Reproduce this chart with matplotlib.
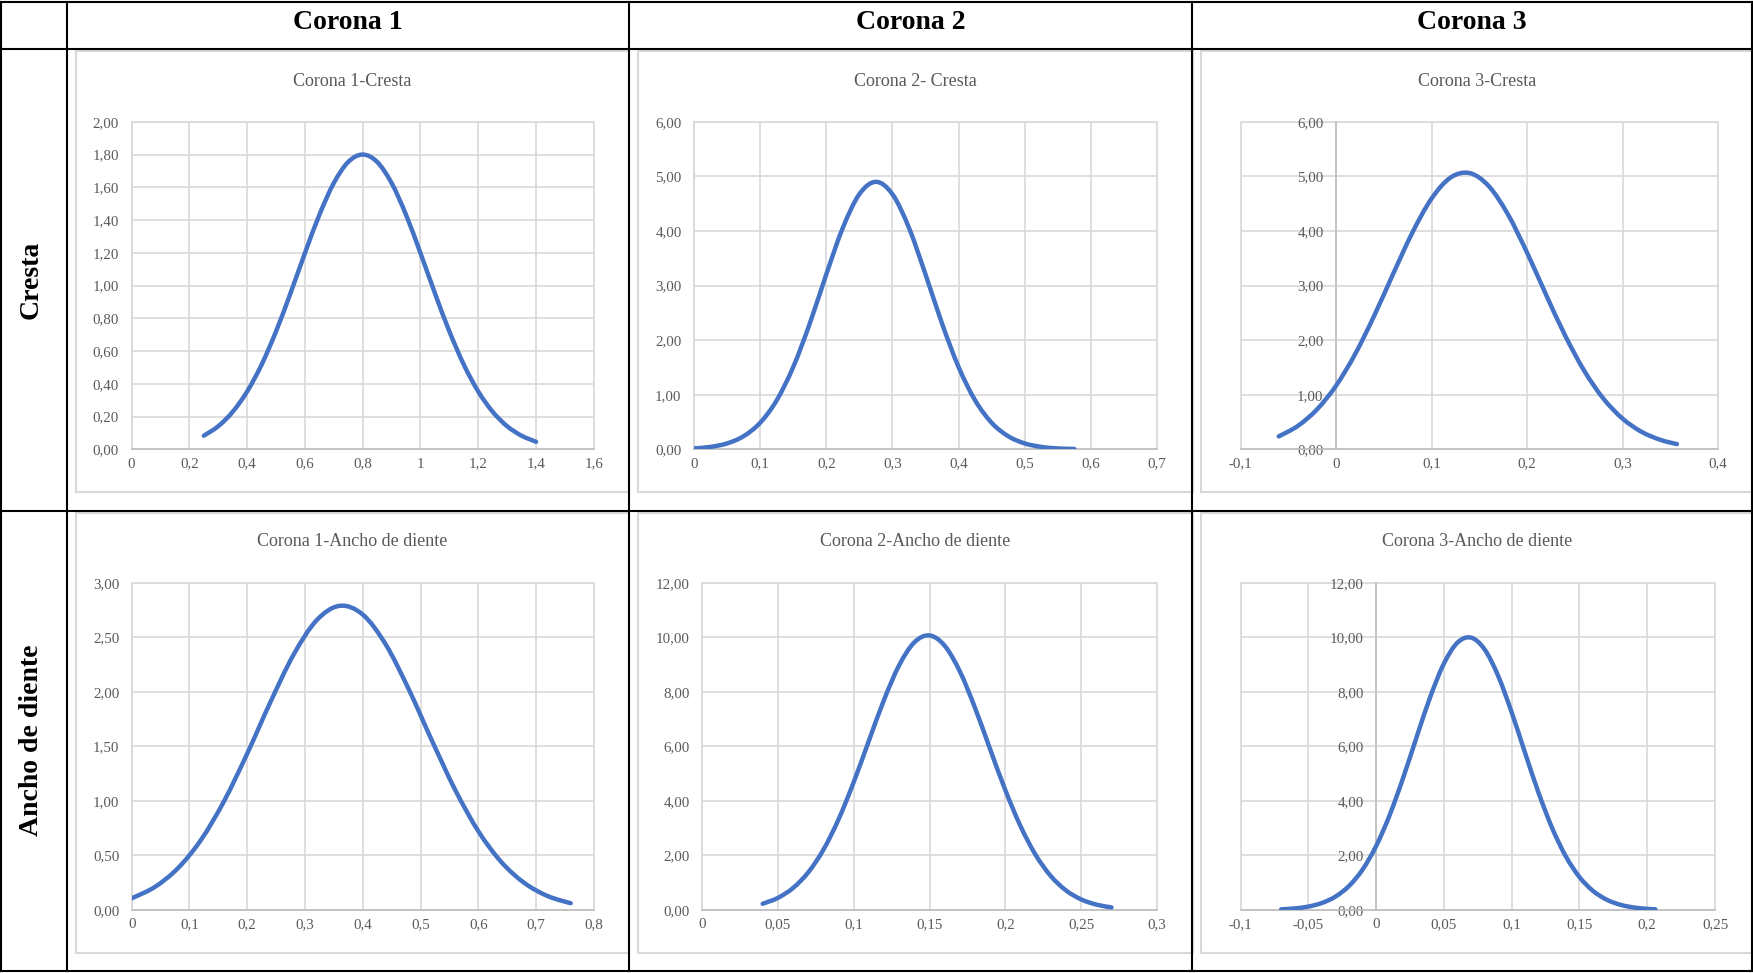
import matplotlib
matplotlib.use("Agg")
import matplotlib.pyplot as plt
from matplotlib.path import Path
from matplotlib.patches import PathPatch, Rectangle
from matplotlib.ticker import FixedLocator, FuncFormatter

plt.rcParams['font.family'] = ['Liberation Serif', 'DejaVu Serif']

# ---------------------------------------------------------------- data
column_labels = ["Corona 1", "Corona 2", "Corona 3"]
row_labels = ["Cresta", "Ancho de diente"]

# Corona 1 - Cresta
c1_cresta_x = [0.25, 0.30, 0.35, 0.40, 0.45, 0.50, 0.55, 0.60, 0.65, 0.70, 0.75, 0.80,
               0.85, 0.90, 0.95, 1.00, 1.05, 1.10, 1.15, 1.20, 1.25, 1.30, 1.35, 1.40]
c1_cresta_y = [0.083, 0.141, 0.229, 0.353, 0.517, 0.720, 0.953, 1.198, 1.432, 1.626, 1.755, 1.800,
               1.755, 1.626, 1.432, 1.198, 0.953, 0.720, 0.517, 0.353, 0.229, 0.141, 0.083, 0.046]

# Corona 2 - Cresta
c2_cresta_x = [0.000, 0.025, 0.050, 0.075, 0.100, 0.125, 0.150, 0.175, 0.200, 0.225, 0.250, 0.275,
               0.300, 0.325, 0.350, 0.375, 0.400, 0.425, 0.450, 0.475, 0.500, 0.525, 0.550, 0.575]
c2_cresta_y = [0.016, 0.044, 0.108, 0.240, 0.486, 0.897, 1.507, 2.304, 3.205, 4.058, 4.674, 4.900,
               4.674, 4.058, 3.205, 2.304, 1.507, 0.897, 0.486, 0.240, 0.108, 0.044, 0.016, 0.006]

# Corona 3 - Cresta
c3_cresta_x = [-0.06, -0.04, -0.02, 0.00, 0.02, 0.04, 0.06, 0.08, 0.10, 0.12, 0.14,
               0.16, 0.18, 0.20, 0.22, 0.24, 0.26, 0.28, 0.30, 0.32, 0.34, 0.357]
c3_cresta_y = [0.236, 0.428, 0.729, 1.164, 1.743, 2.447, 3.220, 3.971, 4.592, 4.979, 5.060,
               4.821, 4.305, 3.605, 2.830, 2.082, 1.436, 0.929, 0.563, 0.320, 0.171, 0.095]

# Corona 1 - Ancho de diente
c1_ancho_x = [0.00, 0.04, 0.08, 0.12, 0.16, 0.20, 0.24, 0.28, 0.32, 0.36,
              0.40, 0.44, 0.48, 0.52, 0.56, 0.60, 0.64, 0.68, 0.72, 0.76]
c1_ancho_y = [0.107, 0.211, 0.383, 0.643, 0.999, 1.434, 1.904, 2.338, 2.655, 2.788,
              2.708, 2.432, 2.019, 1.550, 1.101, 0.723, 0.439, 0.247, 0.128, 0.062]

# Corona 2 - Ancho de diente
c2_ancho_x = [0.04, 0.05, 0.06, 0.07, 0.08, 0.09, 0.10, 0.11, 0.12, 0.13, 0.14, 0.15,
              0.16, 0.17, 0.18, 0.19, 0.20, 0.21, 0.22, 0.23, 0.24, 0.25, 0.26, 0.27]
c2_ancho_y = [0.228, 0.443, 0.806, 1.376, 2.206, 3.319, 4.684, 6.200, 7.702, 8.975, 9.813, 10.067,
              9.689, 8.749, 7.413, 5.892, 4.394, 3.075, 2.018, 1.243, 0.718, 0.389, 0.198, 0.095]

# Corona 3 - Ancho de diente
c3_ancho_x = [-0.07, -0.06, -0.05, -0.04, -0.03, -0.02, -0.01, 0.00, 0.01, 0.02, 0.03, 0.04,
              0.05, 0.06, 0.07, 0.08, 0.09, 0.10, 0.11, 0.12, 0.13, 0.14, 0.15, 0.16,
              0.17, 0.18, 0.19, 0.20, 0.206]
c3_ancho_y = [0.025, 0.058, 0.126, 0.257, 0.490, 0.879, 1.479, 2.341, 3.477, 4.850, 6.354, 7.817,
              9.032, 9.801, 9.987, 9.558, 8.590, 7.250, 5.747, 4.277, 2.990, 1.963, 1.210, 0.701,
              0.381, 0.195, 0.093, 0.042, 0.025]

# axis ticks of each chart
c1_cresta_xticks = [0, 0.2, 0.4, 0.6, 0.8, 1.0, 1.2, 1.4, 1.6]
c1_cresta_yticks = [0, 0.2, 0.4, 0.6, 0.8, 1.0, 1.2, 1.4, 1.6, 1.8, 2.0]
c2_cresta_xticks = [0, 0.1, 0.2, 0.3, 0.4, 0.5, 0.6, 0.7]
c2_cresta_yticks = [0, 1, 2, 3, 4, 5, 6]
c3_cresta_xticks = [-0.1, 0, 0.1, 0.2, 0.3, 0.4]
c3_cresta_yticks = [0, 1, 2, 3, 4, 5, 6]
c1_ancho_xticks = [0, 0.1, 0.2, 0.3, 0.4, 0.5, 0.6, 0.7, 0.8]
c1_ancho_yticks = [0, 0.5, 1.0, 1.5, 2.0, 2.5, 3.0]
c2_ancho_xticks = [0, 0.05, 0.1, 0.15, 0.2, 0.25, 0.3]
c2_ancho_yticks = [0, 2, 4, 6, 8, 10, 12]
c3_ancho_xticks = [-0.1, -0.05, 0, 0.05, 0.1, 0.15, 0.2, 0.25]
c3_ancho_yticks = [0, 2, 4, 6, 8, 10, 12]

# ---------------------------------------------------------------- styling
W, H = 1753, 973
LINE_BLUE = "#4472C4"
GRID = "#D9D9D9"
AXIS = "#BFBFBF"
TEXT_GRAY = "#595959"

fig = plt.figure(figsize=(W / 100, H / 100), dpi=100)
fig.patch.set_facecolor("white")

# page layer in pixel units: table rules, headings, chart frames
bg = fig.add_axes([0, 0, 1, 1], zorder=0)
bg.set_xlim(0, W)
bg.set_ylim(H, 0)
bg.axis("off")

col_edges = [1, 67, 629, 1192, 1752]
row_edges = [1.5, 49, 511, 970.5]
for x in col_edges:
    bg.plot([x, x], [row_edges[0], row_edges[-1]], color="black", lw=1.5, solid_capstyle="projecting")
for y in row_edges:
    bg.plot([col_edges[0], col_edges[-1]], [y, y], color="black", lw=1.5, solid_capstyle="projecting")

for i, lab in enumerate(column_labels):
    cx = (col_edges[i + 1] + col_edges[i + 2]) / 2
    bg.text(cx, 22.5, lab, ha="center", va="center", fontsize=20, fontweight="bold", color="black")
for j, lab in enumerate(row_labels):
    cy = (row_edges[j + 1] + row_edges[j + 2]) / 2
    bg.text(31.5, cy, lab, ha="center", va="center", rotation=90, fontsize=20,
            fontweight="bold", color="black")

# chart frames: (left, top, right, bottom) in pixels
frames = [[(76, 51, 629, 492), (638, 51, 1193, 492), (1201, 51, 1753, 492)],
          [(76, 513, 629, 953), (638, 513, 1193, 953), (1201, 513, 1753, 953)]]
for row in frames:
    for (l, t, r, b) in row:
        bg.add_patch(Rectangle((l, t), r - l, b - t, fill=False, ec=GRID, lw=1.5))

title_y = [81.5, 541.5]


def fmt_x(v, pos):
    s = f"{round(v, 6):g}"
    if s == "-0":
        s = "0"
    return s.replace(".", ",")


def fmt_y(v, pos):
    return f"{v:.2f}".replace(".", ",")


def smooth_path(xs, ys):
    """Smoothed line through the points (Catmull-Rom as cubic Bezier segments)."""
    pts = list(zip(xs, ys))
    n = len(pts)
    verts = [pts[0]]
    codes = [Path.MOVETO]
    for i in range(n - 1):
        p0 = pts[i - 1] if i > 0 else pts[i]
        p1, p2 = pts[i], pts[i + 1]
        p3 = pts[i + 2] if i + 2 < n else pts[i + 1]
        c1 = (p1[0] + (p2[0] - p0[0]) / 6, p1[1] + (p2[1] - p0[1]) / 6)
        c2 = (p2[0] - (p3[0] - p1[0]) / 6, p2[1] - (p3[1] - p1[1]) / 6)
        verts += [c1, c2, p2]
        codes += [Path.CURVE4] * 3
    return Path(verts, codes)


def add_chart(box, title, title_pos, xs, ys, xticks, yticks):
    l, t, r, b = box
    ax = fig.add_axes([l / W, 1 - b / H, (r - l) / W, (b - t) / H], zorder=1)
    ax.set_facecolor("white")
    ax.patch.set_edgecolor(GRID)
    ax.patch.set_linewidth(1.2)
    ax.set_xlim(xticks[0], xticks[-1])
    ax.set_ylim(yticks[0], yticks[-1])
    ax.xaxis.set_major_locator(FixedLocator(xticks))
    ax.yaxis.set_major_locator(FixedLocator(yticks))
    ax.xaxis.set_major_formatter(FuncFormatter(fmt_x))
    ax.yaxis.set_major_formatter(FuncFormatter(fmt_y))
    ax.grid(True, color=GRID, lw=1.2)
    ax.set_axisbelow(True)
    for side in ("top", "right"):
        ax.spines[side].set_visible(False)
    ax.spines["bottom"].set_color(AXIS)
    ax.spines["bottom"].set_linewidth(1.2)
    ax.spines["left"].set_color(AXIS if xticks[0] < 0 else GRID)
    ax.spines["left"].set_linewidth(1.2)
    if xticks[0] < 0:
        ax.spines["left"].set_position(("data", 0))
    ax.tick_params(axis="both", length=0, labelsize=10.8, labelcolor=TEXT_GRAY)
    ax.tick_params(axis="y", pad=9)
    ax.tick_params(axis="x", pad=6)
    ax.add_patch(PathPatch(smooth_path(xs, ys), fill=False, ec=LINE_BLUE, lw=3.2,
                           capstyle="round", joinstyle="round", zorder=3))
    bg.text(title_pos[0], title_pos[1], title, ha="center", va="center",
            fontsize=13, color=TEXT_GRAY)
    return ax


plot_boxes = [[(131.6, 121.8, 593.8, 449.3), (694, 121.8, 1157, 449.3), (1240.5, 121.8, 1718, 449.3)],
              [(131.7, 582.7, 593.8, 910), (702, 582.7, 1157, 910), (1240.5, 582.7, 1715, 910)]]

charts = [
    [("Corona 1-Cresta", c1_cresta_x, c1_cresta_y, c1_cresta_xticks, c1_cresta_yticks),
     ("Corona 2- Cresta", c2_cresta_x, c2_cresta_y, c2_cresta_xticks, c2_cresta_yticks),
     ("Corona 3-Cresta", c3_cresta_x, c3_cresta_y, c3_cresta_xticks, c3_cresta_yticks)],
    [("Corona 1-Ancho de diente", c1_ancho_x, c1_ancho_y, c1_ancho_xticks, c1_ancho_yticks),
     ("Corona 2-Ancho de diente", c2_ancho_x, c2_ancho_y, c2_ancho_xticks, c2_ancho_yticks),
     ("Corona 3-Ancho de diente", c3_ancho_x, c3_ancho_y, c3_ancho_xticks, c3_ancho_yticks)],
]

for i in range(2):
    for j in range(3):
        title, xs, ys, xt, yt = charts[i][j]
        fl, ft, fr, fb = frames[i][j]
        add_chart(plot_boxes[i][j], title, ((fl + fr) / 2, title_y[i]), xs, ys, xt, yt)

fig.savefig("out.png", dpi=100, facecolor="white")
